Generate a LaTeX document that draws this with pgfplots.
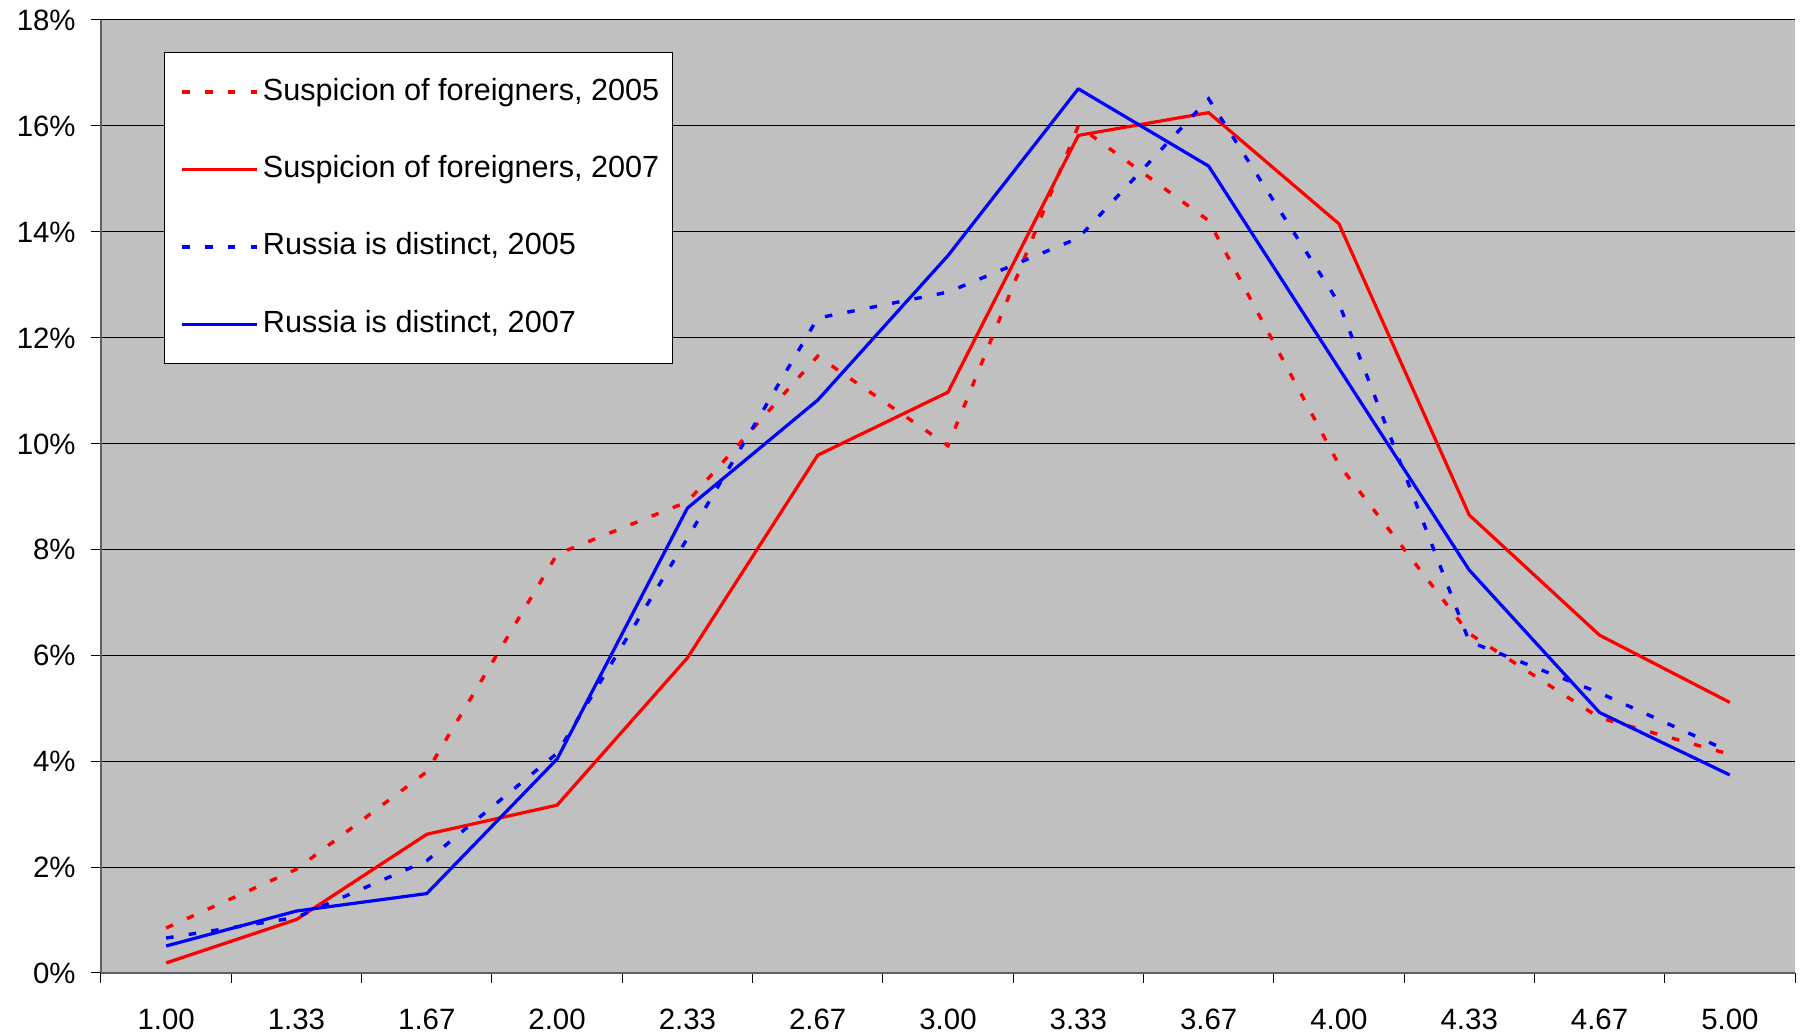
\documentclass[border=0pt]{standalone}
\usepackage{fontspec}
\setmainfont{Liberation Sans}
\usepackage{pgfplots}
\pgfplotsset{compat=1.18}
\definecolor{plotbg}{RGB}{192,192,192}
\definecolor{axisgray}{RGB}{96,96,96}
\begin{document}
\begin{tikzpicture}
\begin{axis}[
  scale only axis,
  width=847pt, height=476.5pt,
  xmin=-0.5, xmax=12.5, ymin=0, ymax=18,
  axis background/.style={fill=plotbg},
  axis x line*=bottom, axis y line*=left,
  axis line style={draw=axisgray, line width=1pt, -},
  xtick={0,1,2,3,4,5,6,7,8,9,10,11,12},
  xticklabels={1.00,1.33,1.67,2.00,2.33,2.67,3.00,3.33,3.67,4.00,4.33,4.67,5.00},
  major x tick style={draw=none},
  minor xtick={-0.5,0.5,1.5,2.5,3.5,4.5,5.5,6.5,7.5,8.5,9.5,10.5,11.5,12.5},
  minor x tick style={draw=black, line width=0.5pt},
  minor tick length=5pt,
  major tick length=5pt,
  ytick={0,2,4,6,8,10,12,14,16,18},
  yticklabels={0\%,2\%,4\%,6\%,8\%,10\%,12\%,14\%,16\%,18\%},
  major y tick style={draw=black, line width=0.5pt},
  tick align=outside,
  ymajorgrids,
  major grid style={draw=black, line width=0.5pt},
  xticklabel style={font=\fontsize{14.7}{17}\selectfont, inner sep=0pt, text height=10.5pt, text depth=0pt, anchor=north, yshift=-12.5pt},
  yticklabel style={font=\fontsize{14.7}{17}\selectfont, inner sep=0pt, text height=10.5pt, text depth=0pt, anchor=east, xshift=-7.5pt},
  legend style={
    at={(0.0372,0.9664)}, anchor=north west,
    fill=white, draw=black, line width=0.5pt,
    inner xsep=6.5pt, inner ysep=12.8pt,
    row sep=24.7pt, column sep=2pt,
    font=\fontsize{15.3}{18}\selectfont,
    cells={anchor=west},
    nodes={inner sep=0pt, text height=11pt, text depth=3pt},
  },
  legend image code/.code={\path (0pt,0pt); \draw[#1] (1.5pt,0pt) -- (39pt,0pt);},
]
\addplot[red, line width=1.7pt, dash pattern=on 3.75pt off 7.65pt] coordinates {
(0,0.85) (1,1.96) (2,3.8) (3,7.91) (4,8.9) (5,11.65) (6,9.96) (7,16.0) (8,14.21) (9,9.6) (10,6.41) (11,4.82) (12,4.13)};
\addlegendentry{Suspicion of foreigners, 2005}
\addplot[red, line width=1.6pt, line join=round] coordinates {
(0,0.19) (1,1.01) (2,2.62) (3,3.17) (4,5.95) (5,9.78) (6,10.97) (7,15.82) (8,16.25) (9,14.15) (10,8.65) (11,6.38) (12,5.11)};
\addlegendentry{Suspicion of foreigners, 2007}
\addplot[blue, line width=1.7pt, dash pattern=on 3.75pt off 7.65pt] coordinates {
(0,0.66) (1,1.05) (2,2.12) (3,4.15) (4,8.21) (5,12.37) (6,12.86) (7,13.88) (8,16.51) (9,12.65) (10,6.26) (11,5.29) (12,4.18)};
\addlegendentry{Russia is distinct, 2005}
\addplot[blue, line width=1.6pt, line join=round] coordinates {
(0,0.51) (1,1.17) (2,1.5) (3,4.04) (4,8.78) (5,10.82) (6,13.55) (7,16.7) (8,15.24) (9,11.42) (10,7.61) (11,4.92) (12,3.74)};
\addlegendentry{Russia is distinct, 2007}
\end{axis}
\path ([xshift=-50.5pt,yshift=-31.5pt]current axis.south west) rectangle ([xshift=4.5pt,yshift=10pt]current axis.north east);
\end{tikzpicture}
\end{document}
